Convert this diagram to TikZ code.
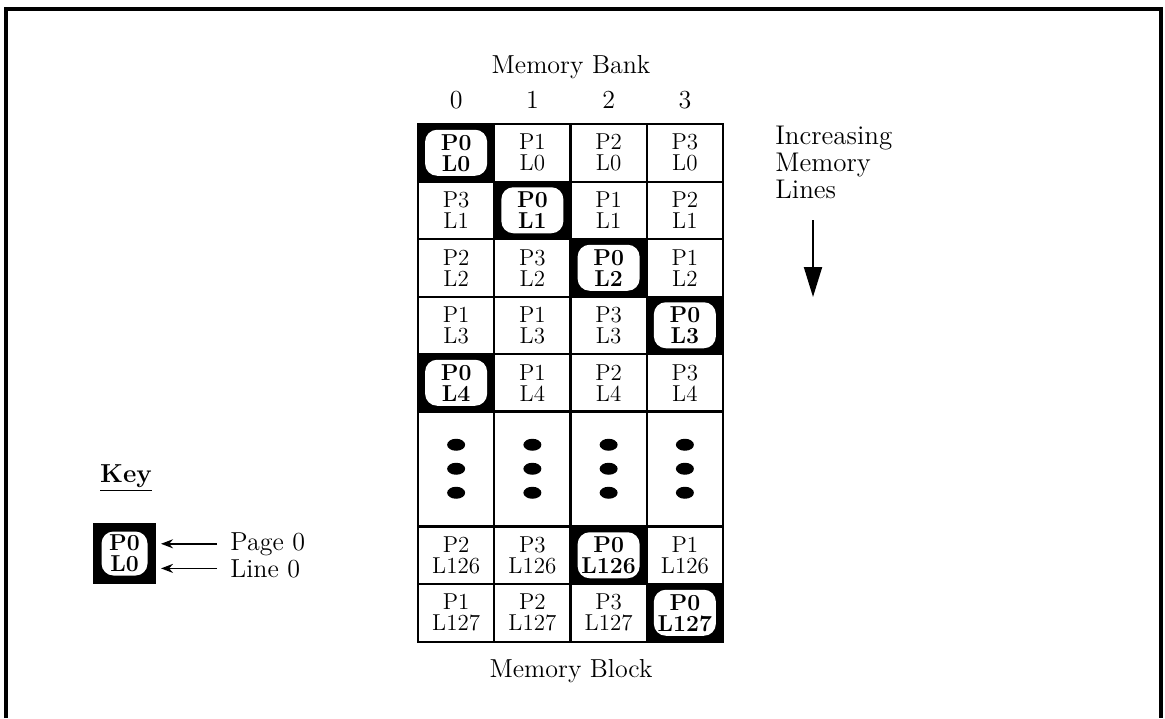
\documentclass[tikz,border=0pt]{standalone}
\usepackage{tikz}
\usetikzlibrary{positioning,arrows.meta}

\begin{document}
\begin{tikzpicture}[x=0.5pt,y=-0.5pt,
  every node/.style={font=\fontsize{13}{15}\selectfont},
  cell/.style={draw,line width=1pt,minimum width=38.1pt,minimum height=28.75pt,inner sep=0pt,
    align=center,font=\fontsize{11.5}{10.5}\selectfont},
  pagecell/.style={cell,fill=black},
  pagetag/.style={fill=white,rounded corners=6pt,minimum width=31pt,minimum height=23pt,inner sep=0pt,
    align=center,font=\fontsize{11.5}{10.5}\selectfont\bfseries},
  keyarrow/.style={line width=0.9pt,-{Stealth[length=6pt,width=4.5pt]}},
  bigarrow/.style={line width=1pt,-{Triangle[length=15pt,width=9pt]}}]
  \useasboundingbox (0,0) rectangle (1165,718);
  % frame (open at the bottom)
  \draw[line width=1.6pt] (6,718) -- (6,9) -- (1161,9) -- (1161,718);
  % headings
  \node[anchor=base] (banklbl) at (571,73) {Memory Bank};
  \foreach \c in {0,...,3}
    \node[anchor=base] (b\c) at (456.125+76.25*\c,108) {\c};
  \node[anchor=base] (blocklbl) at (571,677) {Memory Block};
  % memory lines
  \foreach \r/\ln/\pages/\hl in {0/L0/{P0,P1,P2,P3}/0, 1/L1/{P3,P0,P1,P2}/1,
      2/L2/{P2,P3,P0,P1}/2, 3/L3/{P1,P1,P3,P0}/3, 4/L4/{P0,P1,P2,P3}/0,
      7/L126/{P2,P3,P0,P1}/2, 8/L127/{P1,P2,P3,P0}/3}
    \foreach \p [count=\c from 0] in \pages {
      \pgfmathsetmacro\cx{456.125+76.25*\c}
      \pgfmathsetmacro\cy{152.75+57.5*\r}
      \ifnum\c=\hl
        \node[pagecell] (cell-\r-\c) at (\cx,\cy) {};
        \node[pagetag] (tag-\r-\c) at (cell-\r-\c) {\p\\\ln};
      \else
        \node[cell] (cell-\r-\c) at (\cx,\cy) {\p\\\ln};
      \fi
    }
  % skipped lines
  \foreach \c in {0,...,3} {
    \node[cell,minimum height=57.5pt] (gap-\c) at (456.125+76.25*\c,468.75) {};
    \foreach \dy in {-24,0,24}
      \fill (gap-\c.center) ++(0,\dy) ellipse (9 and 6);
  }
  % direction
  \node[anchor=north west,inner sep=0pt,align=left,font=\fontsize{13.5}{13.5}\selectfont]
    (incr) at (775,126) {Increasing\\Memory\\Lines};
  \coordinate (arrtop) at (813,220);
  \coordinate (arrbot) at (813,297);
  \draw[bigarrow] (arrtop) -- (arrbot);
  % key
  \node[anchor=base,font=\fontsize{13}{15}\selectfont\bfseries] (keylbl) at (126,482) {\underline{Key}};
  \node[pagecell,minimum width=30.5pt,minimum height=29.5pt] (keybox) at (124.5,553.5) {};
  \node[pagetag,minimum width=23pt,minimum height=22pt] (keytag) at (keybox) {P0\\L0};
  \node[anchor=base west,inner sep=0pt] (pagelbl) at (230,550) {Page 0};
  \node[anchor=base west,inner sep=0pt] (linelbl) at (230,577) {Line 0};
  \draw[keyarrow,shorten <=6.5pt,shorten >=2.5pt] (pagelbl.west) -- (pagelbl.west -| keybox.east);
  \draw[keyarrow,shorten <=6.5pt,shorten >=2.5pt] (linelbl.west) -- (linelbl.west -| keybox.east);
\end{tikzpicture}
\end{document}
